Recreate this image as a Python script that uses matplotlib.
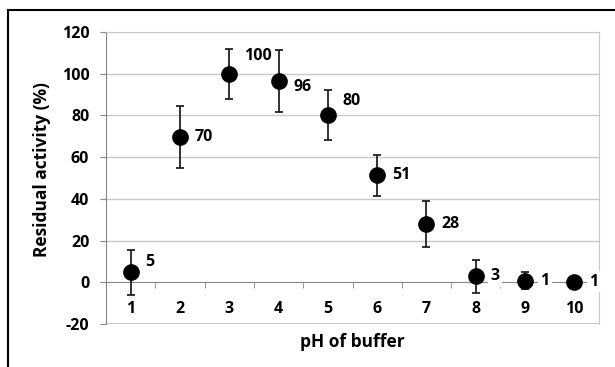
import matplotlib.pyplot as plt
from matplotlib.lines import Line2D

ph = [1, 2, 3, 4, 5, 6, 7, 8, 9, 10]
activity = [4.7, 69.6, 99.9, 96.5, 80.4, 51.2, 27.9, 2.8, 0.8, 0.2]
error = [11, 15, 12, 15, 12, 10, 11, 8, 4, 0]
labels = ['5', '70', '100', '96', '80', '51', '28', '3', '1', '1']
# label offsets in pixels (dy)
label_dy = [10, 0, 18, -6, 14, 0, 0, 0, 0, 0]

plt.rcParams['font.family'] = ['Open Sans', 'DejaVu Sans']
plt.rcParams['font.weight'] = 'bold'
plt.rcParams['axes.unicode_minus'] = False

fig = plt.figure(figsize=(6.15, 3.67), dpi=100)
ax = fig.add_axes([106 / 615, 43 / 367, 493 / 615, 292 / 367])

grid_c = '#c8c8c8'
axis_c = '#868686'

ax.set_xlim(0.5, 10.5)
ax.set_ylim(-20, 120)
ax.set_yticks(range(-20, 121, 20))
for y in range(20, 121, 20):
    ax.axhline(y, color=grid_c, lw=1, zorder=0)

for s in ['top', 'right']:
    ax.spines[s].set_color(grid_c)
ax.spines['left'].set_color(axis_c)
ax.spines['bottom'].set_position(('data', 0))
ax.spines['bottom'].set_color(axis_c)
ax.axhline(-20, color=grid_c, lw=1.5, zorder=0)

ax.set_xticks(ph)
ax.set_xticks([x + 0.5 for x in ph[:-1]], minor=True)
ax.tick_params(axis='x', which='major', length=0, pad=13.5, labelsize=11.5)
ax.tick_params(axis='x', which='minor', length=4, color=axis_c, direction='out')
ax.tick_params(axis='y', length=4, color=axis_c, labelsize=11.5, pad=8)

ax.errorbar(ph, activity, yerr=error, fmt='o', color='black', ms=11,
            ecolor='#222222', elinewidth=1.3, capsize=3, capthick=1.3, zorder=4)

for x, y, t, dy in zip(ph, activity, labels, label_dy):
    ax.annotate(t, (x, y), xytext=(15, dy), textcoords='offset pixels',
                ha='left', va='center', fontsize=11.5, fontweight='bold',
                bbox=dict(boxstyle='square,pad=0.15', fc='white', ec='none'),
                zorder=5, annotation_clip=False)

ax.set_xlabel('pH of buffer', fontsize=12.5, fontweight='bold')
ax.set_ylabel('Residual activity (%)', fontsize=12.5, fontweight='bold')
ax.xaxis.set_label_coords(0.5, -0.03)
ax.yaxis.set_label_coords(-0.112, 0.53)

# outer chart frame
fig.add_artist(Line2D([8 / 615, 1.0], [1 - 10 / 367] * 2, transform=fig.transFigure,
                      color='black', lw=1.5))
fig.add_artist(Line2D([8 / 615] * 2, [0, 1 - 10 / 367], transform=fig.transFigure,
                      color='black', lw=1.5))

fig.savefig('out.png', dpi=100)
